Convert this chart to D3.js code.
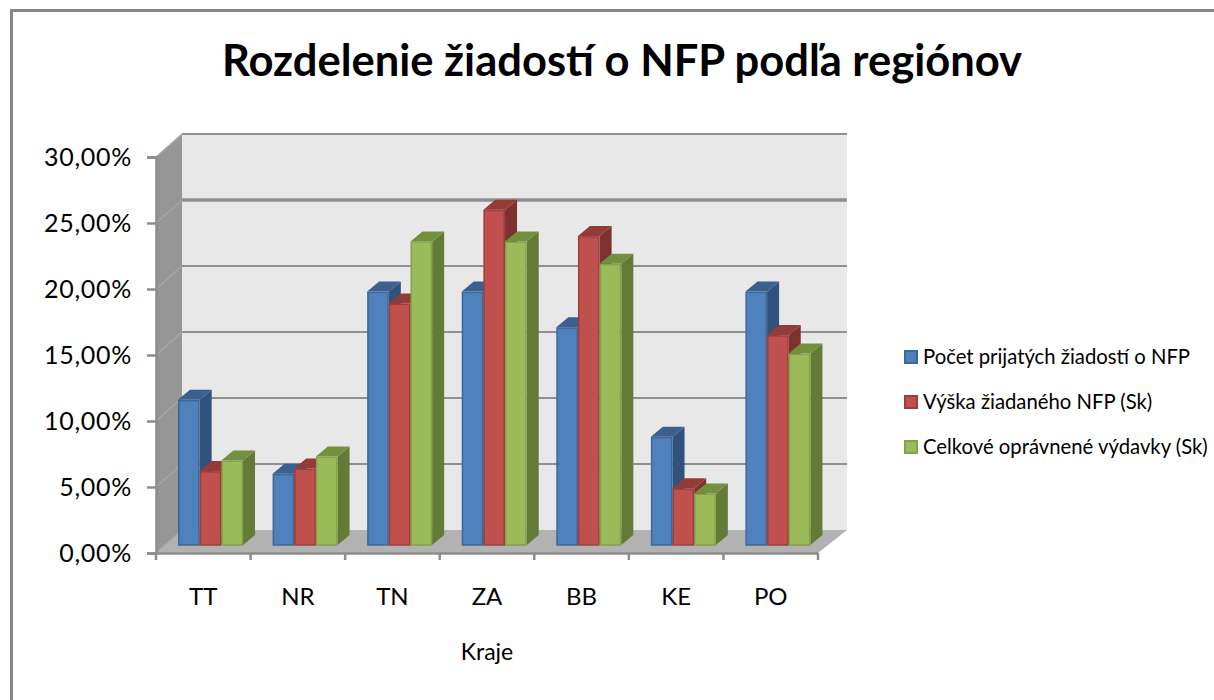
<!DOCTYPE html>
<html>
<head>
<meta charset="utf-8">
<title>Rozdelenie žiadostí o NFP podľa regiónov</title>
<script src="https://cdn.jsdelivr.net/npm/d3@7"></script>
<style>
  html, body { margin: 0; padding: 0; background: #fff; }
  svg { display: block; }
  text { font-family: Lato, "Open Sans", sans-serif; fill: #000; }
</style>
</head>
<body>
<svg id="chart"></svg>
<script>
const width = 1214, height = 700;

const categories = ["TT", "NR", "TN", "ZA", "BB", "KE", "PO"];
const seriesNames = ["Počet prijatých žiadostí o NFP", "Výška žiadaného NFP (Sk)", "Celkové oprávnené výdavky (Sk)"];
const pocet   = [11.0, 5.4, 19.2, 19.2, 16.5, 8.2, 19.2];
const vyska   = [5.6, 5.8, 18.3, 25.4, 23.4, 4.3, 15.9];
const vydavky = [6.4, 6.7, 23.0, 23.0, 21.3, 3.9, 14.5];
const yTicks  = [0, 5, 10, 15, 20, 25, 30];

const seriesValues = [pocet, vyska, vydavky];
// front, top and side faces of each series
const colors = [
  { front: "#4f81bd", top: "#3a6090", side: "#31527c", edge: "#3d6796" },
  { front: "#c0504d", top: "#933b39", side: "#7e3230", edge: "#9c3f3c" },
  { front: "#9bbb59", top: "#73903f", side: "#647a37", edge: "#84a34a" }
];

const svg = d3.select("#chart").attr("width", width).attr("height", height)
  .attr("viewBox", `0 0 ${width} ${height}`);

// chart frame, only top and left are visible
svg.append("path")
  .attr("d", `M11.5,${height} V10.5 H${width}`)
  .attr("fill", "none").attr("stroke", "#868686").attr("stroke-width", 3);

svg.append("text")
  .attr("x", 622).attr("y", 76)
  .attr("text-anchor", "middle")
  .attr("font-size", 43.5).attr("font-weight", 700)
  .text("Rozdelenie žiadostí o NFP podľa regiónov");

// fake 3d: the back wall is the front plane moved by this offset
const wallDx = 26, wallDy = -23;
const barDx = 12, barDy = -10;

const y = d3.scaleLinear().domain([0, 30]).range([553, 157]);
const x = d3.scaleBand().domain(categories).range([156, 818]);
const xInner = d3.scaleBand().domain(d3.range(seriesNames.length)).range([22, 87]);

const x0 = x.range()[0], x1 = x.range()[1];
const y0 = y(0), yTop = y(30);

svg.append("polygon") // back wall
  .attr("points", [[x0 + wallDx, yTop + wallDy], [x1 + wallDx + 3, yTop + wallDy], [x1 + wallDx + 3, y0 + wallDy], [x0 + wallDx, y0 + wallDy]].join(" "))
  .attr("fill", "#e8e8e8");
svg.append("polygon") // side wall
  .attr("points", [[x0, y0], [x0 + wallDx, y0 + wallDy], [x0 + wallDx, yTop + wallDy], [x0, yTop]].join(" "))
  .attr("fill", "#969696");
svg.append("polygon") // floor
  .attr("points", [[x0, y0], [x0 + wallDx, y0 + wallDy], [x1 + wallDx + 3, y0 + wallDy], [x1, y0]].join(" "))
  .attr("fill", "#b2b2b2");

// grid lines on the back wall and on the side wall
const grid = svg.append("g").attr("fill", "none").attr("stroke", "#8f8f8f");
grid.selectAll("path.back")
  .data(yTicks.filter(d => d > 0))
  .join("path")
  .attr("class", "back")
  .attr("d", d => `M${x0 + wallDx},${y(d) + wallDy} H${x1 + wallDx + 3}`)
  .attr("stroke-width", d => d === 25 ? 3.5 : 2.2);
grid.selectAll("path.diag")
  .data(yTicks)
  .join("path")
  .attr("class", "diag")
  .attr("d", d => `M${x0},${y(d)} L${x0 + wallDx},${y(d) + wallDy}`)
  .attr("stroke", "#a8a8a8").attr("stroke-width", 1.2);

// bars stand a little behind the front edge of the floor
const barBase = 8;
const bars = svg.append("g");
categories.forEach((cat, c) => {
  seriesValues.forEach((vals, s) => {
    const col = colors[s];
    const left = x(cat) + xInner(s);
    const right = left + xInner.bandwidth();
    const bottom = y(0) - barBase;
    const top = y(vals[c]) - barBase;
    const g = bars.append("g");
    g.append("polygon") // side face
      .attr("points", [[right, bottom], [right + barDx, bottom + barDy], [right + barDx, top + barDy], [right, top]].join(" "))
      .attr("fill", col.side);
    g.append("polygon") // top face
      .attr("points", [[left, top], [left + barDx, top + barDy], [right + barDx, top + barDy], [right, top]].join(" "))
      .attr("fill", col.top);
    g.append("rect") // front face
      .attr("x", left + 0.75).attr("y", top + 0.75)
      .attr("width", right - left - 1.5).attr("height", bottom - top - 0.75)
      .attr("fill", col.front).attr("stroke", col.edge).attr("stroke-width", 1.5);
  });
});

// y axis
const fmt = d => d3.format(".2f")(d).replace(".", ",") + "%";
const yAxisG = svg.append("g")
  .attr("transform", `translate(${x0},0)`)
  .call(d3.axisLeft(y).tickValues(yTicks).tickFormat(fmt).tickSize(9).tickPadding(15));
yAxisG.selectAll("path, line").attr("stroke", "#8c8c8c").attr("stroke-width", 2.5);
yAxisG.selectAll("text").attr("font-size", 25).attr("letter-spacing", 0.7).attr("font-family", "Lato");

// x axis: labels from the band axis, ticks on the band edges
const xAxisG = svg.append("g")
  .attr("transform", `translate(0,${y0})`)
  .call(d3.axisBottom(x).tickSize(0).tickPadding(35));
xAxisG.select("path").attr("stroke", "#8c8c8c").attr("stroke-width", 2.5);
xAxisG.selectAll("text").attr("font-size", 24).attr("font-family", "Lato");
xAxisG.selectAll("line.edge")
  .data(d3.range(categories.length + 1))
  .join("line")
  .attr("class", "edge")
  .attr("x1", i => x0 + i * x.step()).attr("x2", i => x0 + i * x.step())
  .attr("y1", 0).attr("y2", 7)
  .attr("stroke", "#8c8c8c").attr("stroke-width", 2.5);

svg.append("text")
  .attr("x", 487).attr("y", 660)
  .attr("text-anchor", "middle")
  .attr("font-size", 23)
  .text("Kraje");

// legend
const legendY = d3.scalePoint().domain(seriesNames).range([357, 447]);
const legend = svg.selectAll("g.legend")
  .data(seriesNames)
  .join("g")
  .attr("class", "legend")
  .attr("transform", d => `translate(904,${legendY(d)})`);
legend.append("rect")
  .attr("x", 1).attr("y", -6)
  .attr("width", 12).attr("height", 12)
  .attr("fill", (d, i) => colors[i].front)
  .attr("stroke", (d, i) => colors[i].edge)
  .attr("stroke-width", 2);
legend.append("text")
  .attr("x", 19).attr("y", 7)
  .attr("font-size", 20.3)
  .text(d => d);
</script>
</body>
</html>
